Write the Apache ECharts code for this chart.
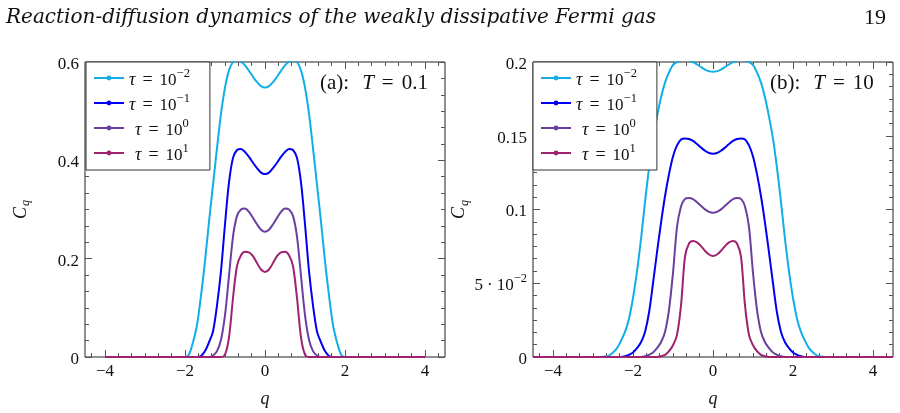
<!DOCTYPE html>
<html>
<head>
<meta charset="utf-8">
<script src="https://cdn.jsdelivr.net/npm/echarts@6/dist/echarts.min.js"></script>
<style>
  html, body { margin: 0; padding: 0; background: #fff; }
  #chart { width: 900px; height: 413px; }
</style>
</head>
<body>
<div id="chart"></div>
<script>
// q grids
var qA = [-4, -2, -1.9, -1.8, -1.7, -1.6, -1.5, -1.4, -1.3, -1.2, -1.1, -1, -0.9, -0.8, -0.7, -0.6, -0.5, -0.4, -0.3, -0.2, -0.1,
  0, 0.1, 0.2, 0.3, 0.4, 0.5, 0.6, 0.7, 0.8, 0.9, 1, 1.1, 1.2, 1.3, 1.4, 1.5, 1.6, 1.7, 1.8, 1.9, 2, 4];
var qB = [-4.5, -2.8, -2.7, -2.6, -2.5, -2.4, -2.3, -2.2, -2.1, -2, -1.9, -1.8, -1.7, -1.6, -1.5, -1.4, -1.3, -1.2, -1.1, -1,
  -0.9, -0.8, -0.7, -0.6, -0.5, -0.4, -0.3, -0.2, -0.1, 0, 0.1, 0.2, 0.3, 0.4, 0.5, 0.6, 0.7, 0.8, 0.9, 1,
  1.1, 1.2, 1.3, 1.4, 1.5, 1.6, 1.7, 1.8, 1.9, 2, 2.1, 2.2, 2.3, 2.4, 2.5, 2.6, 2.7, 2.8, 4.5];

// (a) T = 0.1
var cyanA = [0, 0, 0.005, 0.030, 0.065, 0.125, 0.195, 0.275, 0.350, 0.425, 0.495, 0.548, 0.583, 0.600, 0.604, 0.601, 0.593, 0.582, 0.570, 0.559, 0.551,
  0.548, 0.551, 0.559, 0.570, 0.582, 0.593, 0.601, 0.604, 0.600, 0.583, 0.548, 0.495, 0.425, 0.350, 0.275, 0.195, 0.125, 0.065, 0.030, 0.005, 0, 0];
var blueA = [0, 0, 0, 0, 0, 0.002, 0.012, 0.030, 0.052, 0.105, 0.175, 0.270, 0.355, 0.405, 0.421, 0.423, 0.417, 0.407, 0.395, 0.384, 0.375,
  0.372, 0.375, 0.384, 0.395, 0.407, 0.417, 0.423, 0.421, 0.405, 0.355, 0.270, 0.175, 0.105, 0.052, 0.030, 0.012, 0.002, 0, 0, 0, 0, 0];
var purpleA = [0, 0, 0, 0, 0, 0, 0, 0, 0.003, 0.012, 0.035, 0.085, 0.165, 0.245, 0.287, 0.300, 0.302, 0.295, 0.283, 0.270, 0.259,
  0.255, 0.259, 0.270, 0.283, 0.295, 0.302, 0.300, 0.287, 0.245, 0.165, 0.085, 0.035, 0.012, 0.003, 0, 0, 0, 0, 0, 0, 0, 0];
var magentaA = [0, 0, 0, 0, 0, 0, 0, 0, 0, 0, 0, 0.005, 0.040, 0.120, 0.185, 0.207, 0.214, 0.213, 0.205, 0.191, 0.178,
  0.173, 0.178, 0.191, 0.205, 0.213, 0.214, 0.207, 0.185, 0.120, 0.040, 0.005, 0, 0, 0, 0, 0, 0, 0, 0, 0, 0, 0];

// (b) T = 10
var cyanB = [0, 0, 0.0003, 0.001, 0.003, 0.006, 0.011, 0.017, 0.026, 0.040, 0.058, 0.080, 0.105, 0.128, 0.148, 0.163, 0.176, 0.186, 0.193, 0.198,
  0.200, 0.2012, 0.2015, 0.2011, 0.2000, 0.1983, 0.1966, 0.1949, 0.1938, 0.1934, 0.1938, 0.1949, 0.1966, 0.1983, 0.2000, 0.2011, 0.2015, 0.2012, 0.200, 0.198,
  0.193, 0.186, 0.176, 0.163, 0.148, 0.128, 0.105, 0.080, 0.058, 0.040, 0.026, 0.017, 0.011, 0.006, 0.003, 0.001, 0.0003, 0, 0];
var blueB = [0, 0, 0, 0, 0, 0, 0, 0.0005, 0.0015, 0.003, 0.006, 0.010, 0.017, 0.030, 0.050, 0.071, 0.091, 0.109, 0.124, 0.136,
  0.1435, 0.1475, 0.1482, 0.1478, 0.1465, 0.1444, 0.1420, 0.1398, 0.1383, 0.1378, 0.1383, 0.1398, 0.1420, 0.1444, 0.1465, 0.1478, 0.1482, 0.1475, 0.1435, 0.136,
  0.124, 0.109, 0.091, 0.071, 0.050, 0.030, 0.017, 0.010, 0.006, 0.003, 0.0015, 0.0005, 0, 0, 0, 0, 0, 0, 0];
var purpleB = [0, 0, 0, 0, 0, 0, 0, 0, 0, 0, 0, 0, 0.0005, 0.0015, 0.003, 0.006, 0.010, 0.017, 0.032, 0.057,
  0.088, 0.102, 0.1072, 0.1078, 0.1070, 0.1049, 0.1025, 0.1001, 0.0984, 0.0978, 0.0984, 0.1001, 0.1025, 0.1049, 0.1070, 0.1078, 0.1072, 0.102, 0.088, 0.057,
  0.032, 0.017, 0.010, 0.006, 0.003, 0.0015, 0.0005, 0, 0, 0, 0, 0, 0, 0, 0, 0, 0, 0, 0];
var magentaB = [0, 0, 0, 0, 0, 0, 0, 0, 0, 0, 0, 0, 0, 0, 0, 0, 0.0005, 0.0015, 0.004, 0.008,
  0.015, 0.035, 0.068, 0.077, 0.0787, 0.0777, 0.0752, 0.0720, 0.0695, 0.0685, 0.0695, 0.0720, 0.0752, 0.0777, 0.0787, 0.077, 0.068, 0.035, 0.015, 0.008,
  0.004, 0.0015, 0.0005, 0, 0, 0, 0, 0, 0, 0, 0, 0, 0, 0, 0, 0, 0, 0, 0];

var tauExp = ['−2', '−1', '0', '1'];
var colors = ['#12AEE8', '#0000F2', '#6A3FA0', '#9E2270'];
var xTicks = [-4, -2, 0, 2, 4];
var yTicksA = [0, 0.2, 0.4, 0.6];
var yTicksB = [0, 0.05, 0.1, 0.15, 0.2];

var FONT = "'Liberation Serif', 'DejaVu Serif', serif";

// minor ticks (5 between majors)
var xMinor = [];
for (var k = -13; k <= 13; k++) if (k % 6 !== 0) xMinor.push(k / 3);
var yMinorA = [];
for (var k = 1; k < 18; k++) if (k % 6 !== 0) yMinorA.push(k * 0.2 / 6);
var yMinorB = [];
for (var k = 1; k < 24; k++) if (k % 6 !== 0) yMinorB.push(k * 0.05 / 6);

function rs(size, lh, va, extra) {
  return Object.assign({ fontFamily: FONT, fontSize: size, lineHeight: lh, verticalAlign: va, color: '#111' }, extra || {});
}
var rich = {
  // legend
  i: rs(18, 22, 'bottom', { fontStyle: 'italic' }),
  ip: rs(18, 22, 'bottom', { fontStyle: 'italic', padding: [0, 0, 0, 6] }),
  e: rs(18, 22, 'bottom', { padding: [0, 7, 0, 7] }),
  n: rs(17, 22, 'bottom'),
  d: rs(17, 22, 'bottom', { padding: [0, 4, 0, 4] }),
  s: rs(12.5, 10, 'top'),
  // annotation
  A: rs(21, 24, 'bottom'),
  AT: rs(21, 24, 'bottom', { fontStyle: 'italic', padding: [0, 8, 0, 13] }),
  AE: rs(21, 24, 'bottom', { padding: [0, 8, 0, 0] }),
  // y name
  c: rs(18, 20, 'top', { fontStyle: 'italic' }),
  q: rs(12, 15, 'bottom', { fontStyle: 'italic', padding: [0, 0, 0, 1] })
};

function fmtX(v) { return v < 0 ? '−' + (-v) : String(v); }
function fmtYB(v) {
  if (Math.abs(v - 0.05) < 1e-9) return '{n|5}{d|·}{n|10}{s|−2}';
  return '{n|' + v + '}';
}

var tickStyle = { color: '#555', width: 1 };
var noLine = { show: false, onZero: false };

function xAxes(g) {
  var base = { gridIndex: g, type: 'value', min: -4.5, max: 4.5, axisLine: noLine, splitLine: { show: false } };
  return [
    Object.assign({}, base, {
      position: 'bottom',
      axisTick: { inside: true, length: 7, customValues: xTicks, lineStyle: tickStyle },
      axisLabel: { customValues: xTicks, formatter: fmtX, fontFamily: FONT, fontSize: 17, color: '#111', margin: 6 },
      name: 'q', nameLocation: 'middle', nameGap: 33,
      nameTextStyle: { fontFamily: FONT, fontStyle: 'italic', fontSize: 18, color: '#111' }
    }),
    Object.assign({}, base, {
      position: 'top',
      axisTick: { inside: true, length: 7, customValues: xTicks, lineStyle: tickStyle },
      axisLabel: { show: false }
    }),
    Object.assign({}, base, {
      position: 'top',
      axisTick: { inside: true, length: 4, customValues: xMinor, lineStyle: tickStyle },
      axisLabel: { show: false }
    }),
    Object.assign({}, base, {
      position: 'bottom',
      axisTick: { inside: true, length: 4, customValues: xMinor, lineStyle: tickStyle },
      axisLabel: { show: false }
    })
  ];
}

function yAxes(g, ymax, ticks, minor, fmt) {
  var base = { gridIndex: g, type: 'value', min: 0, max: ymax, axisLine: noLine, splitLine: { show: false } };
  return [
    Object.assign({}, base, {
      position: 'left',
      axisTick: { inside: true, length: 7, customValues: ticks, lineStyle: tickStyle },
      axisLabel: { customValues: ticks, formatter: fmt, fontFamily: FONT, fontSize: 17, color: '#111', margin: 6, rich: rich },
      name: '{c|C}{q|q}', nameLocation: 'middle', nameGap: 53, nameRotate: 90,
      nameTextStyle: { rich: rich }
    }),
    Object.assign({}, base, {
      position: 'right',
      axisTick: { inside: true, length: 7, customValues: ticks, lineStyle: tickStyle },
      axisLabel: { show: false }
    }),
    Object.assign({}, base, {
      position: 'right',
      axisTick: { inside: true, length: 4, customValues: minor, lineStyle: tickStyle },
      axisLabel: { show: false }
    }),
    Object.assign({}, base, {
      position: 'left',
      axisTick: { inside: true, length: 4, customValues: minor, lineStyle: tickStyle },
      axisLabel: { show: false }
    })
  ];
}

function pairs(q, v) { return q.map(function (x, i) { return [x, v[i]]; }); }

function line(name, g, q, v, color) {
  return {
    name: name, type: 'line', xAxisIndex: 4 * g, yAxisIndex: 4 * g,
    data: pairs(q, v), smooth: 0.3, showSymbol: false, symbol: 'circle', symbolSize: 6,
    lineStyle: { width: 2, color: color }, itemStyle: { color: color }, clip: true
  };
}

var namesA = ['a0', 'a1', 'a2', 'a3'];
var namesB = ['b0', 'b1', 'b2', 'b3'];
function legendFmt(name) {
  var idx = Number(name.charAt(1));
  return (idx >= 2 ? '{ip|τ}' : '{i|τ}') + '{e|=}{n|10}{s|' + tauExp[idx] + '}';
}
function legend(left, names) {
  return {
    data: names, orient: 'vertical', left: left, top: 62, padding: [5, 20, 6, 7],
    itemGap: 3, itemWidth: 30, itemHeight: 6, selectedMode: false,
    backgroundColor: '#fff', borderColor: '#333', borderWidth: 1, borderRadius: 0,
    formatter: legendFmt, textStyle: { rich: rich }
  };
}

var chart = echarts.init(document.getElementById('chart'), null, { renderer: 'canvas' });
chart.setOption({
  animation: false,
  backgroundColor: '#fff',
  title: [
    { text: 'Reaction-diffusion dynamics of the weakly dissipative Fermi gas', left: 1, top: 3,
      textStyle: { fontFamily: "'DejaVu Serif', serif", fontStyle: 'italic', fontWeight: 'normal', fontSize: 20, color: '#111' } },
    { text: '19', right: 9, top: 2,
      textStyle: { fontFamily: FONT, fontWeight: 'normal', fontSize: 22, color: '#111' } }
  ],
  grid: [
    { left: 85, top: 62, width: 360, height: 298, show: true, borderColor: '#222', borderWidth: 1, backgroundColor: 'transparent' },
    { left: 533, top: 62, width: 360, height: 298, show: true, borderColor: '#222', borderWidth: 1, backgroundColor: 'transparent' }
  ],
  xAxis: xAxes(0).concat(xAxes(1)),
  yAxis: yAxes(0, 0.6, yTicksA, yMinorA, function (v) { return '{n|' + v + '}'; })
    .concat(yAxes(1, 0.2, yTicksB, yMinorB, fmtYB)),
  legend: [legend(86, namesA), legend(533, namesB)],
  graphic: [
    { type: 'text', left: 320, top: 73, z: 10,
      style: { text: '{A|(a):}{AT|T}{AE|=}{A|0.1}', rich: rich, fill: '#111' } },
    { type: 'text', left: 770, top: 73, z: 10,
      style: { text: '{A|(b):}{AT|T}{AE|=}{A|10}', rich: rich, fill: '#111' } }
  ],
  series: [
    line('a0', 0, qA, cyanA, colors[0]),
    line('a1', 0, qA, blueA, colors[1]),
    line('a2', 0, qA, purpleA, colors[2]),
    line('a3', 0, qA, magentaA, colors[3]),
    line('b0', 1, qB, cyanB, colors[0]),
    line('b1', 1, qB, blueB, colors[1]),
    line('b2', 1, qB, purpleB, colors[2]),
    line('b3', 1, qB, magentaB, colors[3])
  ]
});
</script>
</body>
</html>
